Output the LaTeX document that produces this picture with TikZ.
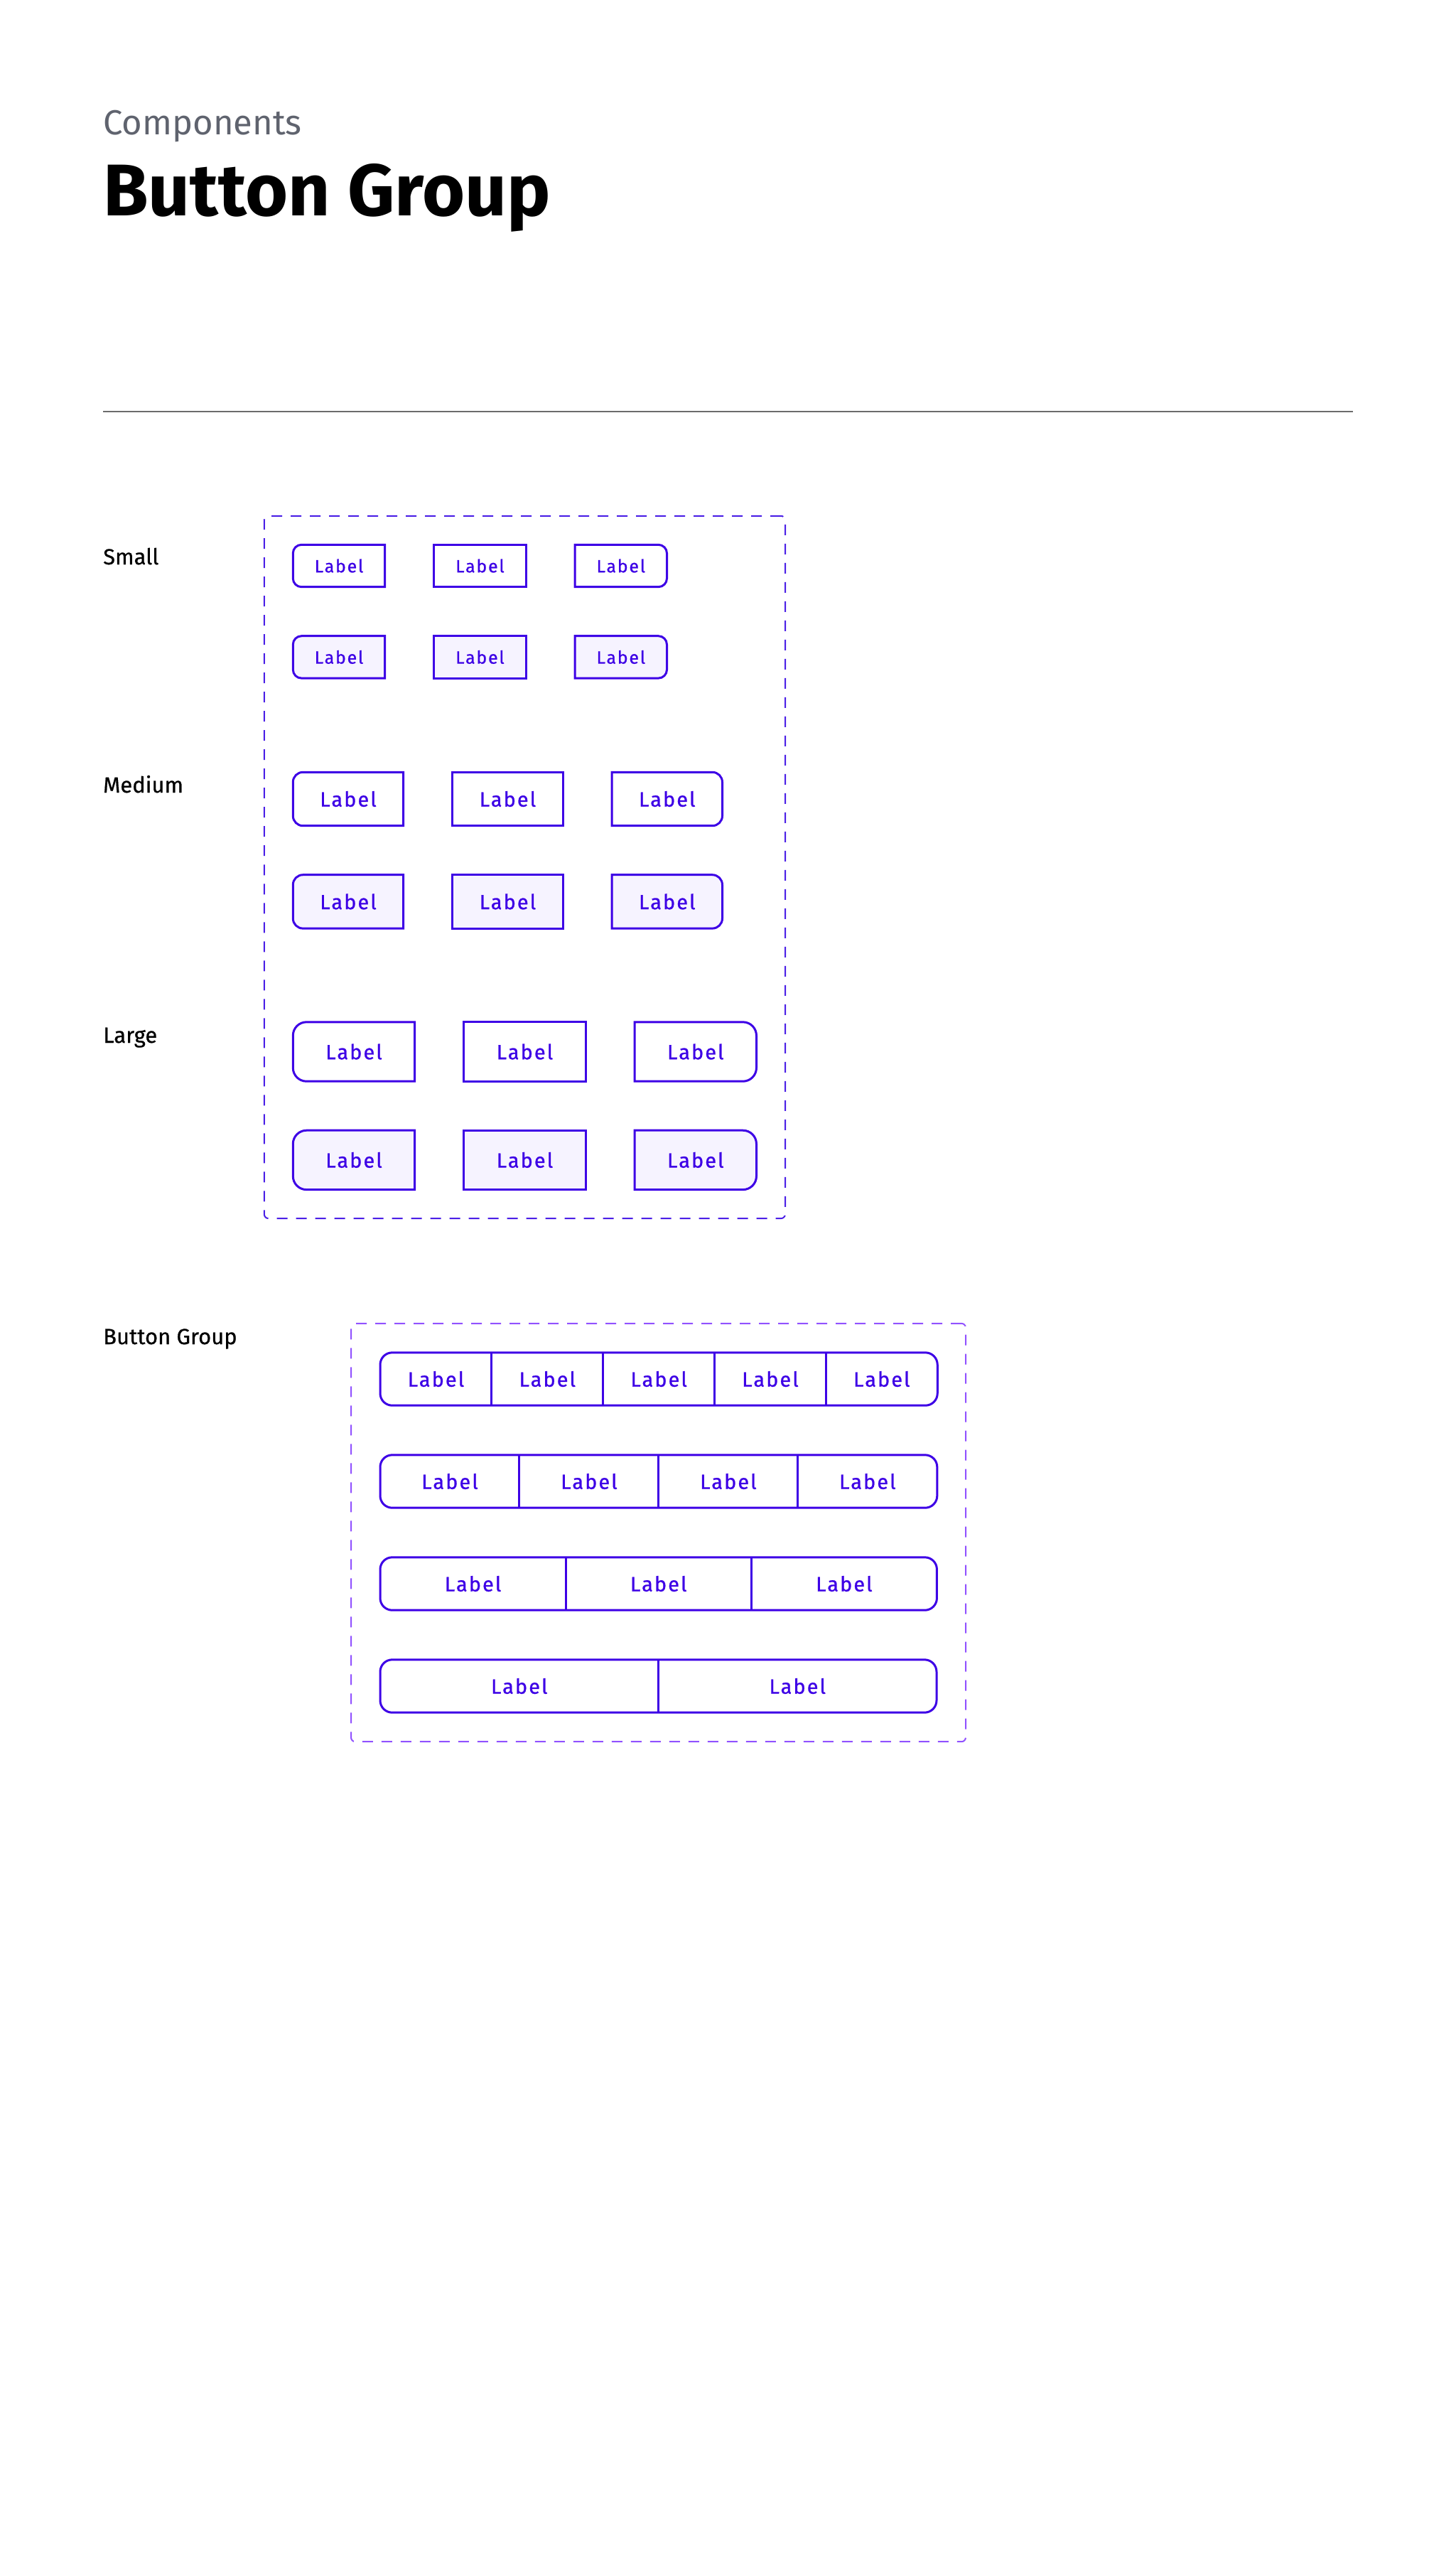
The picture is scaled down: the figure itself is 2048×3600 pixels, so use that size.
\documentclass[tikz,border=0pt]{standalone}
\usepackage{fontspec}
\setmainfont{Fira Sans}
\newfontfamily\btnfont{Fira Sans}[LetterSpace=7,FakeBold=0.8]
\newfontfamily\labfont{Fira Sans}[FakeBold=0.6]
\usetikzlibrary{positioning}
\usetikzlibrary{fit}
\usetikzlibrary{backgrounds}

\definecolor{btnblue}{HTML}{3D00E6}
\definecolor{btnfill}{HTML}{F6F3FF}
\definecolor{boxblue}{HTML}{4A1FE6}
\definecolor{boxviolet}{HTML}{9152FF}
\definecolor{subgray}{HTML}{5F636E}
\definecolor{rulegray}{HTML}{6B6B6B}

% outlines: only one side of a button is rounded
\newcommand{\leftbtn}[3]{\filldraw[btnline,fill=#3] (#1.north) [rounded corners=#2] -- (#1.north west) -- (#1.south west) -- (#1.south) [sharp corners] -- (#1.south east) -- (#1.north east) -- cycle;}
\newcommand{\rightbtn}[3]{\filldraw[btnline,fill=#3] (#1.north) -- (#1.north west) -- (#1.south west) -- (#1.south) [rounded corners=#2] -- (#1.south east) -- (#1.north east) -- cycle;}
\newcommand{\midbtn}[2]{\filldraw[btnline,fill=#2] (#1.north west) rectangle (#1.south east);}

\begin{document}
\begin{tikzpicture}[x=1pt,y=-1pt,node distance=69pt,
			btnline/.style={draw=btnblue,line width=3pt}]
			\tikzstyle{btn}=[inner sep=0pt,text=btnblue,font=\btnfont\fontsize{29}{29}\selectfont]
			\tikzstyle{smallbtn}=[btn,minimum width=129pt,minimum height=59pt,font=\btnfont\fontsize{25}{25}\selectfont]
			\tikzstyle{medbtn}=[btn,minimum width=155pt,minimum height=75pt]
			\tikzstyle{largebtn}=[btn,minimum width=171pt,minimum height=83pt]
			\tikzstyle{seg}=[btn,minimum height=74pt]
			\tikzstyle{sizelabel}=[anchor=base west,inner sep=0pt,font=\labfont\fontsize{31}{31}\selectfont]
			\tikzstyle{dashbox}=[line width=2pt,dash pattern=on 15pt off 12pt,rounded corners=6pt]
			
			\useasboundingbox (0,0) rectangle (2048,3600);
			
			% header
			\node[anchor=base west,inner sep=0pt,text=subgray,font=\fontsize{49}{49}\selectfont] (kicker) at (145,189) {Components};
			\node[anchor=base west,inner sep=0pt,font=\bfseries\fontsize{103}{103}\selectfont] (title) at (145,303) {Button Group};
			\coordinate (rule_l) at (145,579);
			\coordinate (rule_r) at (1904,579);
			\draw[rulegray,line width=2pt] (rule_l) -- (rule_r);
			
			% sizes
			\node[sizelabel] (lab_s) at (145,794)  {Small};
			\node[sizelabel] (lab_m) at (145,1115) {Medium};
			\node[sizelabel] (lab_l) at (145,1467) {Large};
			
			\node[smallbtn] (S_1) at (477,796)  {Label};
			\node[smallbtn] (S_2) [right=of S_1] {Label};
			\node[smallbtn] (S_3) [right=of S_2] {Label};
			\node[smallbtn] (S_4) [below=of S_1] {Label};
			\node[smallbtn] (S_5) [right=of S_4] {Label};
			\node[smallbtn] (S_6) [right=of S_5] {Label};
			
			\node[medbtn]   (M_1) at (490,1124) {Label};
			\node[medbtn]   (M_2) [right=of M_1] {Label};
			\node[medbtn]   (M_3) [right=of M_2] {Label};
			\node[medbtn]   (M_4) [below=of M_1] {Label};
			\node[medbtn]   (M_5) [right=of M_4] {Label};
			\node[medbtn]   (M_6) [right=of M_5] {Label};
			
			\node[largebtn] (L_1) at (498,1479.5) {Label};
			\node[largebtn] (L_2) [right=of L_1] {Label};
			\node[largebtn] (L_3) [right=of L_2] {Label};
			\node[largebtn] (L_4) [below=of L_1] {Label};
			\node[largebtn] (L_5) [right=of L_4] {Label};
			\node[largebtn] (L_6) [right=of L_5] {Label};
			
			\begin{scope}[on background layer]
			\leftbtn{S_1}{12pt}{white} \midbtn{S_2}{white} \rightbtn{S_3}{12pt}{white}
			\leftbtn{S_4}{12pt}{btnfill} \midbtn{S_5}{btnfill} \rightbtn{S_6}{12pt}{btnfill}
			\leftbtn{M_1}{14pt}{white} \midbtn{M_2}{white} \rightbtn{M_3}{14pt}{white}
			\leftbtn{M_4}{14pt}{btnfill} \midbtn{M_5}{btnfill} \rightbtn{M_6}{14pt}{btnfill}
			\leftbtn{L_1}{19pt}{white} \midbtn{L_2}{white} \rightbtn{L_3}{19pt}{white}
			\leftbtn{L_4}{19pt}{btnfill} \midbtn{L_5}{btnfill} \rightbtn{L_6}{19pt}{btnfill}
			\end{scope}
			
			\node[dashbox,draw=boxblue,fit=(S_1)(L_6),inner sep=40.5pt] (sizes) {};
			
			% button group
			\node[sizelabel] (lab_g) at (145,1891) {Button Group};
			
			\node[seg,minimum width=156.45pt,anchor=west] (G_1_1) at (535,1940) {Label};
			\node[seg,minimum width=156.45pt] (G_1_2) [right=0pt of G_1_1] {Label};
			\node[seg,minimum width=156.45pt] (G_1_3) [right=0pt of G_1_2] {Label};
			\node[seg,minimum width=156.45pt] (G_1_4) [right=0pt of G_1_3] {Label};
			\node[seg,minimum width=156.45pt] (G_1_5) [right=0pt of G_1_4] {Label};
			
			\node[seg,minimum width=195.56pt,anchor=west] (G_2_1) at (535,2084) {Label};
			\node[seg,minimum width=195.56pt] (G_2_2) [right=0pt of G_2_1] {Label};
			\node[seg,minimum width=195.56pt] (G_2_3) [right=0pt of G_2_2] {Label};
			\node[seg,minimum width=195.56pt] (G_2_4) [right=0pt of G_2_3] {Label};
			
			\node[seg,minimum width=260.75pt,anchor=west] (G_3_1) at (535,2228) {Label};
			\node[seg,minimum width=260.75pt] (G_3_2) [right=0pt of G_3_1] {Label};
			\node[seg,minimum width=260.75pt] (G_3_3) [right=0pt of G_3_2] {Label};
			
			\node[seg,minimum width=391.1pt,anchor=west] (G_4_1) at (535,2372) {Label};
			\node[seg,minimum width=391.1pt] (G_4_2) [right=0pt of G_4_1] {Label};
			
			\draw[btnline,rounded corners=17pt] (G_1_1.north west) rectangle (G_1_5.south east);
			\draw[btnline,rounded corners=17pt] (G_2_1.north west) rectangle (G_2_4.south east);
			\draw[btnline,rounded corners=17pt] (G_3_1.north west) rectangle (G_3_3.south east);
			\draw[btnline,rounded corners=17pt] (G_4_1.north west) rectangle (G_4_2.south east);
			
			\path[btnline] (G_1_1.north east) edge (G_1_1.south east)
			(G_1_2.north east) edge (G_1_2.south east)
			(G_1_3.north east) edge (G_1_3.south east)
			(G_1_4.north east) edge (G_1_4.south east)
			(G_2_1.north east) edge (G_2_1.south east)
			(G_2_2.north east) edge (G_2_2.south east)
			(G_2_3.north east) edge (G_2_3.south east)
			(G_3_1.north east) edge (G_3_1.south east)
			(G_3_2.north east) edge (G_3_2.south east)
			(G_4_1.north east) edge (G_4_1.south east);
			
			\node[dashbox,draw=boxviolet,fit=(G_1_1)(G_4_2),inner sep=41pt] (groups) {};
\end{tikzpicture}
\end{document}
